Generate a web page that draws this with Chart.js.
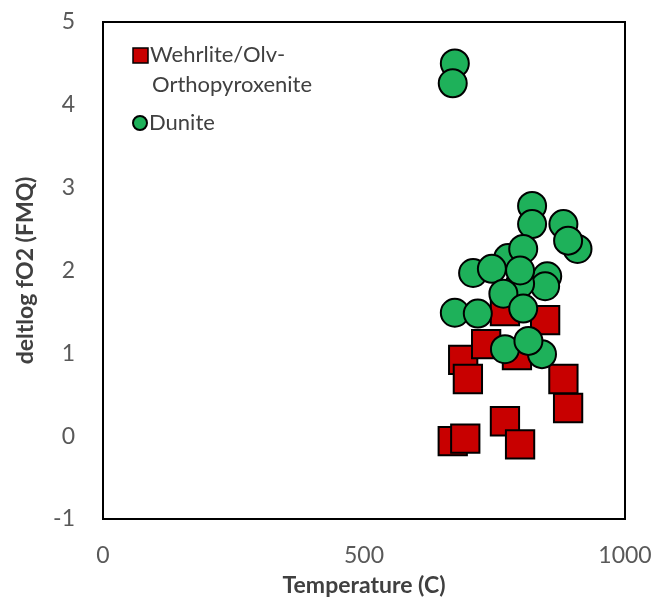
<!DOCTYPE html>
<html>
<head>
<meta charset="utf-8">
<script src="https://cdn.jsdelivr.net/npm/chart.js@4/dist/chart.umd.min.js"></script>
<style>
  html, body { margin: 0; padding: 0; background: #fff; }
  #wrap { width: 658px; height: 607px; }
</style>
</head>
<body>
<div id="wrap"><canvas id="myChart" width="658" height="607"></canvas></div>
<script>
// Wehrlite / Olv-Orthopyroxenite samples
var wehrliteTemp = [670, 694, 770, 799, 891, 882, 690, 699, 734, 793, 847, 770];
var wehrliteFO2 = [-0.06, -0.03, 0.18, -0.10, 0.34, 0.69, 0.92, 0.69, 1.11, 0.98, 1.40, 1.51];

// Dunite samples
var duniteTemp = [674, 670, 822, 822, 882, 909, 891, 776, 805, 709, 745, 851, 847, 799, 767, 799, 674, 718, 805, 770, 841, 815];
var duniteFO2 = [4.50, 4.26, 2.78, 2.56, 2.56, 2.26, 2.36, 2.15, 2.26, 1.97, 2.02, 1.93, 1.81, 1.84, 1.72, 2.00, 1.49, 1.48, 1.54, 1.05, 0.99, 1.15];

var xTicks = [0, 500, 1000];
var yTicks = [-1, 0, 1, 2, 3, 4, 5];

var seriesNames = [['Wehrlite/Olv-', 'Orthopyroxenite'], ['Dunite']];
var red = '#c80000';
var green = '#1eb15a';

function toPoints(xs, ys) {
    return xs.map(function (x, i) { return { x: x, y: ys[i] }; });
}

// box around the plot + legend inside the plot area
var boxAndLegend = {
    id: 'boxAndLegend',
    beforeDatasetsDraw: function (chart) {
        var a = chart.chartArea;
        var ctx = chart.ctx;
        ctx.save();
        ctx.strokeStyle = '#000';
        ctx.lineWidth = 2;
        ctx.strokeRect(a.left, a.top, a.right - a.left, a.bottom - a.top);
        ctx.restore();
    },
    afterDraw: function (chart) {
        var a = chart.chartArea;
        var ctx = chart.ctx;
        ctx.save();
        ctx.font = '22px Lato';
        ctx.fillStyle = '#404040';
        ctx.textBaseline = 'middle';

        // red square
        ctx.fillStyle = red;
        ctx.fillRect(a.left + 30, a.top + 26, 15, 15);
        ctx.strokeStyle = '#000';
        ctx.lineWidth = 1.5;
        ctx.strokeRect(a.left + 30, a.top + 26, 15, 15);
        ctx.fillStyle = '#404040';
        ctx.fillText(seriesNames[0][0], a.left + 47, a.top + 33);
        ctx.fillText(seriesNames[0][1], a.left + 49, a.top + 63);

        // green dot
        ctx.beginPath();
        ctx.arc(a.left + 37, a.top + 101, 7, 0, Math.PI * 2);
        ctx.fillStyle = green;
        ctx.fill();
        ctx.lineWidth = 2;
        ctx.stroke();
        ctx.fillStyle = '#404040';
        ctx.fillText(seriesNames[1][0], a.left + 46, a.top + 101);
        ctx.restore();
    }
};

var ctx = document.getElementById('myChart').getContext('2d');
var chart = new Chart(ctx, {
    type: 'scatter',
    data: {
        datasets: [{
            label: seriesNames[0].join(''),
            data: toPoints(wehrliteTemp, wehrliteFO2),
            pointStyle: 'rect',
            pointRadius: 20,
            pointHoverRadius: 20,
            backgroundColor: red,
            borderColor: '#000',
            borderWidth: 2,
            order: 2
        }, {
            label: seriesNames[1][0],
            data: toPoints(duniteTemp, duniteFO2),
            pointStyle: 'circle',
            pointRadius: 14,
            pointHoverRadius: 14,
            backgroundColor: green,
            borderColor: '#000',
            borderWidth: 2,
            order: 1
        }]
    },
    options: {
        responsive: false,
        animation: false,
        layout: { padding: { top: 22, right: 33, left: 0, bottom: 0 } },
        plugins: {
            legend: { display: false },
            tooltip: { enabled: false }
        },
        scales: {
            x: {
                type: 'linear',
                min: 0,
                max: 1000,
                afterFit: function (s) { s.height = 88; },
                afterBuildTicks: function (s) { s.ticks = xTicks.map(function (v) { return { value: v }; }); },
                // tick marks hidden, tickLength only spaces the labels off the axis
                grid: { display: false, drawTicks: true, tickLength: 23 },
                border: { display: true, color: '#000', width: 2 },
                ticks: {
                    font: { family: 'Lato', size: 23 }, color: '#595959', padding: 0, maxRotation: 0,
                    callback: function (v) { return String(v); }
                },
                title: {
                    display: true,
                    text: 'Temperature (C)',
                    font: { family: 'Lato', size: 23, weight: 'bold' },
                    color: '#404040',
                    padding: { top: 0, bottom: 8 }
                }
            },
            y: {
                type: 'linear',
                min: -1,
                max: 5,
                afterFit: function (s) { s.width = 103; },
                afterBuildTicks: function (s) { s.ticks = yTicks.map(function (v) { return { value: v }; }); },
                grid: { display: false, drawTicks: true, tickLength: 28 },
                border: { display: true, color: '#000', width: 2 },
                ticks: {
                    font: { family: 'Lato', size: 23 }, color: '#595959', padding: 0,
                    callback: function (v) { return String(v); }
                },
                title: {
                    display: true,
                    text: 'deltlog fO2 (FMQ)',
                    font: { family: 'Lato', size: 23, weight: 'bold' },
                    color: '#404040',
                    padding: { top: 12, bottom: 0 }
                }
            }
        }
    },
    plugins: [boxAndLegend]
});
</script>
</body>
</html>
